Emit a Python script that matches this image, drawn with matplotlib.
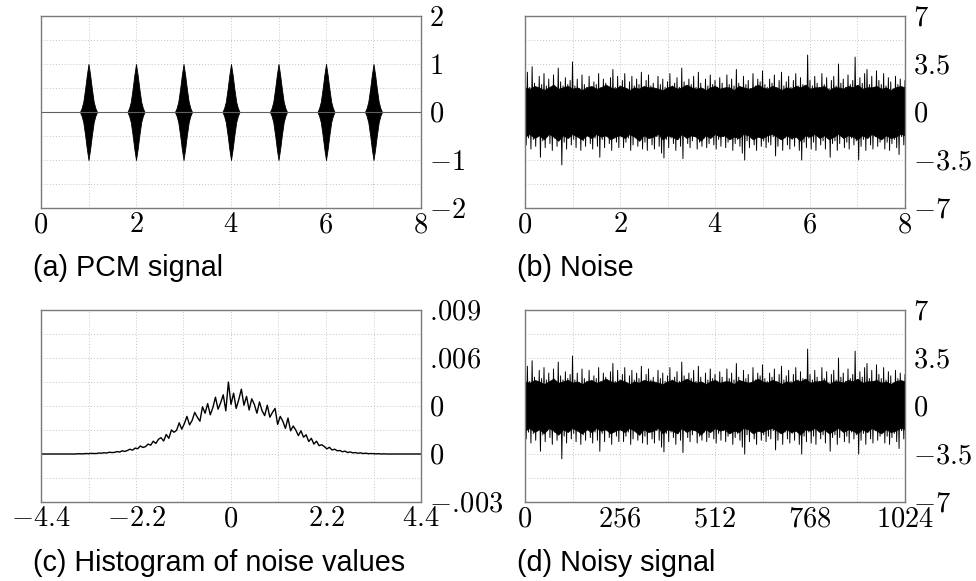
import numpy as np
import matplotlib
matplotlib.use("Agg")
import matplotlib.pyplot as plt

plt.rcParams['mathtext.fontset'] = 'cm'
plt.rcParams['font.family'] = ['Liberation Sans', 'DejaVu Sans']

# ---------------- data ----------------
# (a) PCM signal: burst centres and envelope
pcm_centers = [1, 2, 3, 4, 5, 6, 7]
burst_offsets = [-0.18, -0.145, -0.11, -0.07, -0.035, 0.0, 0.035, 0.07, 0.11, 0.145, 0.18]
burst_amp = [0.0, 0.08, 0.21, 0.49, 0.77, 1.0, 0.77, 0.49, 0.21, 0.08, 0.0]

# (b) noise: spike positions (time) and upper / lower spike tips
noise_t = np.linspace(0, 8, 161)
noise_hi = [2.3, 2.9, 1.8, 3.3, 2.1, 1.7, 2.6, 2.0, 2.8, 1.9,
            2.4, 1.8, 2.7, 1.6, 3.2, 2.2, 1.9, 2.5, 2.0, 2.3,
            3.65, 1.9, 2.4, 1.7, 2.7, 2.0, 1.8, 2.6, 1.7, 2.2,
            2.0, 2.8, 1.8, 2.4, 2.1, 1.7, 2.5, 3.1, 1.8, 2.6,
            1.9, 2.3, 2.8, 1.7, 2.2, 2.6, 1.9, 2.4, 2.0, 2.9,
            1.8, 2.3, 2.7, 1.9, 2.1, 1.6, 2.6, 2.0, 2.4, 1.8,
            2.2, 2.8, 1.9, 2.1, 2.5, 1.8, 3.2, 2.2, 1.7, 2.4,
            2.0, 2.6, 1.8, 2.9, 2.1, 1.7, 2.4, 1.9, 2.7, 2.0,
            2.3, 1.8, 2.5, 2.1, 1.7, 2.7, 2.0, 2.4, 1.9, 3.1,
            2.1, 1.8, 2.6, 2.0, 2.3, 1.6, 2.8, 1.9, 2.4, 2.2,
            3.0, 2.0, 1.8, 2.4, 2.1, 2.7, 1.7, 2.3, 2.9, 1.9,
            2.2, 2.6, 1.8, 2.3, 2.8, 1.9, 2.5, 2.0, 1.7, 4.15,
            2.3, 1.9, 2.6, 2.1, 1.8, 2.8, 2.0, 2.5, 1.7, 2.3,
            2.6, 1.9, 3.5, 2.1, 2.4, 1.8, 2.7, 2.0, 2.3, 4.0,
            1.9, 2.5, 2.1, 2.8, 3.1, 2.0, 2.6, 1.8, 3.0, 2.3,
            2.0, 2.8, 1.9, 2.5, 2.2, 1.7, 2.6, 2.0, 2.4, 1.8,
            2.3]
noise_lo = [-2.4, -1.9, -2.7, -2.0, -2.5, -1.7, -3.3, -2.1, -2.6, -1.8,
            -2.3, -2.8, -1.9, -2.5, -2.0, -3.85, -2.2, -2.7, -1.7, -2.4,
            -2.0, -2.6, -1.8, -2.8, -2.1, -2.5, -1.7, -2.3, -2.7, -1.9,
            -2.5, -3.3, -2.0, -2.6, -1.8, -2.3, -2.8, -1.9, -2.2, -2.6,
            -1.8, -2.6, -2.2, -1.9, -2.8, -2.4, -1.7, -2.5, -2.1, -2.7,
            -2.2, -2.8, -1.9, -2.4, -2.7, -1.8, -2.5, -3.0, -3.35, -2.0,
            -2.6, -1.9, -2.3, -2.8, -2.0, -2.5, -3.4, -1.8, -2.3, -2.6,
            -2.1, -1.8, -2.7, -2.2, -2.5, -1.9, -2.6, -2.3, -1.7, -2.4,
            -2.7, -2.0, -2.5, -1.8, -2.6, -2.2, -1.9, -2.8, -2.3, -2.0,
            -2.5, -3.0, -3.5, -2.1, -2.6, -1.9, -2.4, -2.8, -1.8, -2.5,
            -2.1, -2.6, -2.2, -2.4, -1.8, -3.2, -2.5, -2.0, -2.8, -1.9,
            -2.4, -2.7, -2.0, -2.5, -1.8, -2.8, -3.5, -2.2, -2.6, -1.9,
            -2.7, -2.2, -2.8, -1.8, -2.4, -2.1, -2.7, -1.9, -3.3, -2.3,
            -2.1, -2.8, -2.3, -1.8, -2.6, -2.2, -2.7, -1.9, -2.4, -2.1,
            -3.5, -2.5, -2.0, -2.8, -1.9, -2.4, -2.7, -1.8, -2.5, -2.2,
            -1.9, -2.7, -2.2, -2.8, -2.3, -2.0, -2.6, -3.1, -1.8, -2.4,
            -2.0]
# solid dark core of the noise band (upper / lower edge, every 0.1)
core_t = np.linspace(0, 8, 81)
core_hi = [1.8, 1.7, 1.9, 1.8, 1.6, 1.8, 2.0, 1.7, 1.8, 1.9,
           1.7, 1.8, 1.6, 1.8, 1.9, 1.7, 1.8, 2.0, 1.8, 1.7,
           1.9, 1.8, 1.6, 1.8, 1.7, 1.9, 1.8, 1.8, 1.7, 1.6,
           1.8, 1.9, 1.7, 1.8, 2.0, 1.8, 1.7, 1.8, 1.6, 1.8,
           1.9, 1.7, 1.8, 1.8, 1.6, 1.9, 1.8, 1.7, 1.8, 2.0,
           1.8, 1.7, 1.9, 1.8, 1.6, 1.8, 1.7, 1.9, 1.8, 2.0,
           1.7, 1.8, 1.8, 1.9, 1.6, 1.8, 1.8, 1.7, 1.9, 1.8,
           2.0, 1.7, 1.8, 1.8, 1.9, 1.7, 1.8, 1.6, 1.8, 1.9,
           1.8]
core_lo = [-1.8, -1.6, -1.9, -1.7, -2.0, -1.6, -1.8, -2.1, -1.7, -1.9,
           -1.6, -1.8, -2.0, -1.7, -1.9, -1.6, -1.8, -1.7, -2.0, -1.8,
           -1.7, -1.9, -1.6, -1.8, -2.1, -1.7, -1.9, -1.8, -1.6, -2.0,
           -1.7, -1.8, -2.0, -1.6, -1.9, -1.7, -1.8, -2.1, -1.7, -1.9,
           -1.6, -1.8, -1.7, -2.0, -1.8, -1.9, -1.6, -1.7, -2.0, -1.8,
           -1.9, -1.7, -1.6, -1.8, -2.0, -1.7, -1.9, -1.8, -2.1, -1.7,
           -1.8, -1.6, -1.9, -1.7, -2.0, -1.8, -1.6, -1.9, -1.7, -1.8,
           -2.0, -1.7, -1.9, -1.6, -1.8, -2.0, -1.7, -1.9, -1.8, -1.6,
           -1.7]

# (c) histogram of noise values (bin centres, density in units of 1e-3)
hist_x = np.linspace(-3.6, 3.6, 121)
hist_y_milli = [0.00, 0.02, 0.01, 0.01, 0.03, 0.02, 0.04, 0.03, 0.03, 0.06,
                0.05, 0.08, 0.06, 0.11, 0.09, 0.10, 0.15, 0.12, 0.20, 0.16,
                0.22, 0.30, 0.24, 0.37, 0.33, 0.50, 0.41, 0.46, 0.62, 0.55,
                0.80, 0.66, 0.92, 1.02, 0.81, 1.22, 0.98, 1.50, 1.36, 1.48,
                1.95, 1.55, 1.90, 2.35, 1.82, 2.10, 2.60, 2.30, 2.05, 2.95,
                2.55, 3.15, 2.45, 2.90, 3.55, 2.80, 3.20, 3.70, 2.70, 4.50,
                3.10, 3.80, 2.85, 3.40, 4.05, 3.05, 3.60, 2.75, 3.45, 3.10,
                2.55, 3.25, 2.70, 2.40, 3.05, 2.30, 2.60, 2.85, 1.85, 2.35,
                2.05, 1.60, 2.25, 1.45, 1.75, 1.50, 1.15, 1.45, 1.05, 1.20,
                0.78, 0.98, 0.62, 0.80, 0.52, 0.58, 0.47, 0.32, 0.42, 0.25,
                0.30, 0.20, 0.22, 0.14, 0.18, 0.09, 0.13, 0.07, 0.09, 0.05,
                0.07, 0.03, 0.05, 0.02, 0.03, 0.02, 0.01, 0.02, 0.00, 0.01,
                0.00]

# (d) noisy signal: sample axis
samples_per_unit = 128

# ticks
a_xticks = [0, 2, 4, 6, 8]
a_yticks = [-2, -1, 0, 1, 2]
b_yticks = [-7, -3.5, 0, 3.5, 7]
b_ylabels = ['$-7$', '$-3.5$', '$0$', '$3.5$', '$7$']
c_xticks = [-4.4, -2.2, 0, 2.2, 4.4]
c_xlabels = ['$-4.4$', '$-2.2$', '$0$', '$2.2$', '$4.4$']
c_yticks = [-0.003, 0, 0.003, 0.006, 0.009]
c_ylabels = [r'$-.\!003$', '$0$', '$0$', r'$.\!006$', r'$.\!009$']
d_xticks = [0, 256, 512, 768, 1024]

captions = ['(a) PCM signal', '(b) Noise', '(c) Histogram of noise values', '(d) Noisy signal']

# ---------------- figure ----------------
W, H = 976, 581
fig = plt.figure(figsize=(W / 100, H / 100), dpi=100)


def make_ax(x0, y0, x1, y1):
    return fig.add_axes([x0 / W, 1 - y1 / H, (x1 - x0) / W, (y1 - y0) / H])


axA = make_ax(41, 16, 421, 208)
axB = make_ax(525, 16, 905, 208)
axC = make_ax(41, 310, 421, 502)
axD = make_ax(525, 310, 905, 502)

grid_kw = dict(color='#c4c4c4', linestyle=(0, (1, 2)), linewidth=0.7)


def style(ax):
    for s in ax.spines.values():
        s.set_color('#7a7a7a')
        s.set_linewidth(1.0)
    ax.yaxis.tick_right()
    ax.tick_params(axis='both', which='both', length=0, labelsize=20.5)
    ax.tick_params(axis='x', pad=3)
    ax.tick_params(axis='y', pad=6)
    ax.grid(True, which='both', **grid_kw)
    ax.set_axisbelow(True)


def lab(vals):
    return ['$%g$' % v for v in vals]


# (a)
ax = axA
ax.plot([0, 8], [0, 0], color='#606060', lw=0.8)
for c in pcm_centers:
    xs = c + np.array(burst_offsets)
    amp = np.array(burst_amp)
    ax.fill_between(xs, -amp, amp, color='black', lw=0.6, edgecolor='black')
ax.set_xlim(0, 8)
ax.set_ylim(-2, 2)
ax.set_xticks(a_xticks)
ax.set_xticklabels(lab(a_xticks))
ax.set_xticks(np.arange(0, 9, 1), minor=True)
ax.set_yticks(a_yticks)
ax.set_yticklabels(lab(a_yticks))
ax.set_yticks(np.arange(-2, 2.01, 0.5), minor=True)
style(ax)


def draw_noise(ax, scale):
    t = noise_t * scale
    half = (t[1] - t[0]) / 2
    xs = np.empty(2 * len(t))
    ys = np.empty(2 * len(t))
    xs[0::2] = t
    xs[1::2] = t + half
    ys[0::2] = noise_hi
    ys[1::2] = noise_lo
    ax.fill_between(core_t * scale, core_lo, core_hi, color='black', lw=0.5,
                    edgecolor='black')
    ax.plot(xs, ys, color='black', lw=0.7)


# (b)
ax = axB
draw_noise(ax, 1)
ax.set_xlim(0, 8)
ax.set_ylim(-7, 7)
ax.set_xticks(a_xticks)
ax.set_xticklabels(lab(a_xticks))
ax.set_xticks(np.arange(0, 9, 1), minor=True)
ax.set_yticks(b_yticks)
ax.set_yticklabels(b_ylabels)
ax.set_yticks(np.arange(-7, 7.01, 1.75), minor=True)
style(ax)

# (c)
ax = axC
hy = np.array(hist_y_milli) * 1e-3
ax.plot(np.concatenate([[-4.4], hist_x, [4.4]]),
        np.concatenate([[0], hy, [0]]), color='black', lw=1.0)
ax.set_xlim(-4.4, 4.4)
ax.set_ylim(-0.003, 0.009)
ax.set_xticks(c_xticks)
ax.set_xticklabels(c_xlabels)
ax.set_xticks(np.arange(-4.4, 4.41, 1.1), minor=True)
ax.set_yticks(c_yticks)
ax.set_yticklabels(c_ylabels)
ax.set_yticks(np.arange(-0.003, 0.00901, 0.0015), minor=True)
style(ax)

# (d)
ax = axD
draw_noise(ax, samples_per_unit)
ax.set_xlim(0, 1024)
ax.set_ylim(-7, 7)
ax.set_xticks(d_xticks)
ax.set_xticklabels(lab(d_xticks))
ax.set_xticks(np.arange(0, 1025, 128), minor=True)
ax.set_yticks(b_yticks)
ax.set_yticklabels(b_ylabels)
ax.set_yticks(np.arange(-7, 7.01, 1.75), minor=True)
style(ax)

# captions
cap_pos = [(33, 268), (517, 268), (33, 563), (517, 563)]
for (x, y), txt in zip(cap_pos, captions):
    fig.text(x / W, 1 - y / H, txt, ha='left', va='center', fontsize=20.7)

fig.savefig('out.png', dpi=100)
